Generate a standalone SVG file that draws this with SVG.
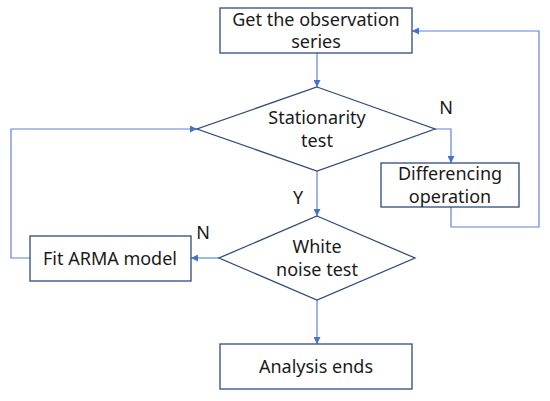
<svg xmlns="http://www.w3.org/2000/svg" width="550" height="401" viewBox="0 0 550 401">
<style>
.node{fill:#fff;stroke:#2F4B7C;stroke-width:1.3}
.lbl{font-family:"Noto Sans","Open Sans",sans-serif;font-size:18px;fill:#1a1a1a;text-anchor:middle}
.edge{fill:none;stroke:#5B85D6;stroke-width:1.2}
</style>
<defs>
<marker id="ah" viewBox="0 0 10 10" refX="10" refY="5" markerWidth="7" markerHeight="7" orient="auto" markerUnits="userSpaceOnUse">
<path d="M0,0 L10,5 L0,10 z" fill="#4472C4"/>
</marker>
</defs>
<rect width="550" height="401" fill="#fff"/>
<g id="edges">
<path class="edge" d="M317,53 V87" marker-end="url(#ah)"/>
<path class="edge" d="M435,129 H451 V163" marker-end="url(#ah)"/>
<path class="edge" d="M451,207 V227 H539 V31 H412" marker-end="url(#ah)"/>
<path class="edge" d="M317,171 V216" marker-end="url(#ah)"/>
<path class="edge" d="M219,258 H191" marker-end="url(#ah)"/>
<path class="edge" d="M30,258 H11 V129 H197" marker-end="url(#ah)"/>
<path class="edge" d="M317,300 V344" marker-end="url(#ah)"/>
<text class="lbl" x="446" y="114">N</text>
<text class="lbl" x="298" y="204">Y</text>
<text class="lbl" x="203" y="239">N</text>
</g>
<g id="get">
<rect class="node" x="220" y="8" width="192" height="45"/>
<text class="lbl" x="316" y="26">Get the observation</text>
<text class="lbl" x="316" y="48">series</text>
</g>
<g id="stationarity">
<polygon class="node" points="317,87 435,129 317,171 197,129"/>
<text class="lbl" x="317" y="124">Stationarity</text>
<text class="lbl" x="317" y="147">test</text>
</g>
<g id="differencing">
<rect class="node" x="381" y="163" width="138" height="44"/>
<text class="lbl" x="450" y="180">Differencing</text>
<text class="lbl" x="450" y="203">operation</text>
</g>
<g id="white">
<polygon class="node" points="317,216 415,258 317,300 219,258"/>
<text class="lbl" x="317" y="253">White</text>
<text class="lbl" x="317" y="276">noise test</text>
</g>
<g id="fit">
<rect class="node" x="30" y="236" width="161" height="45"/>
<text class="lbl" x="110" y="265">Fit ARMA model</text>
</g>
<g id="analysis">
<rect class="node" x="220" y="344" width="192" height="45"/>
<text class="lbl" x="316" y="373">Analysis ends</text>
</g>
</svg>
